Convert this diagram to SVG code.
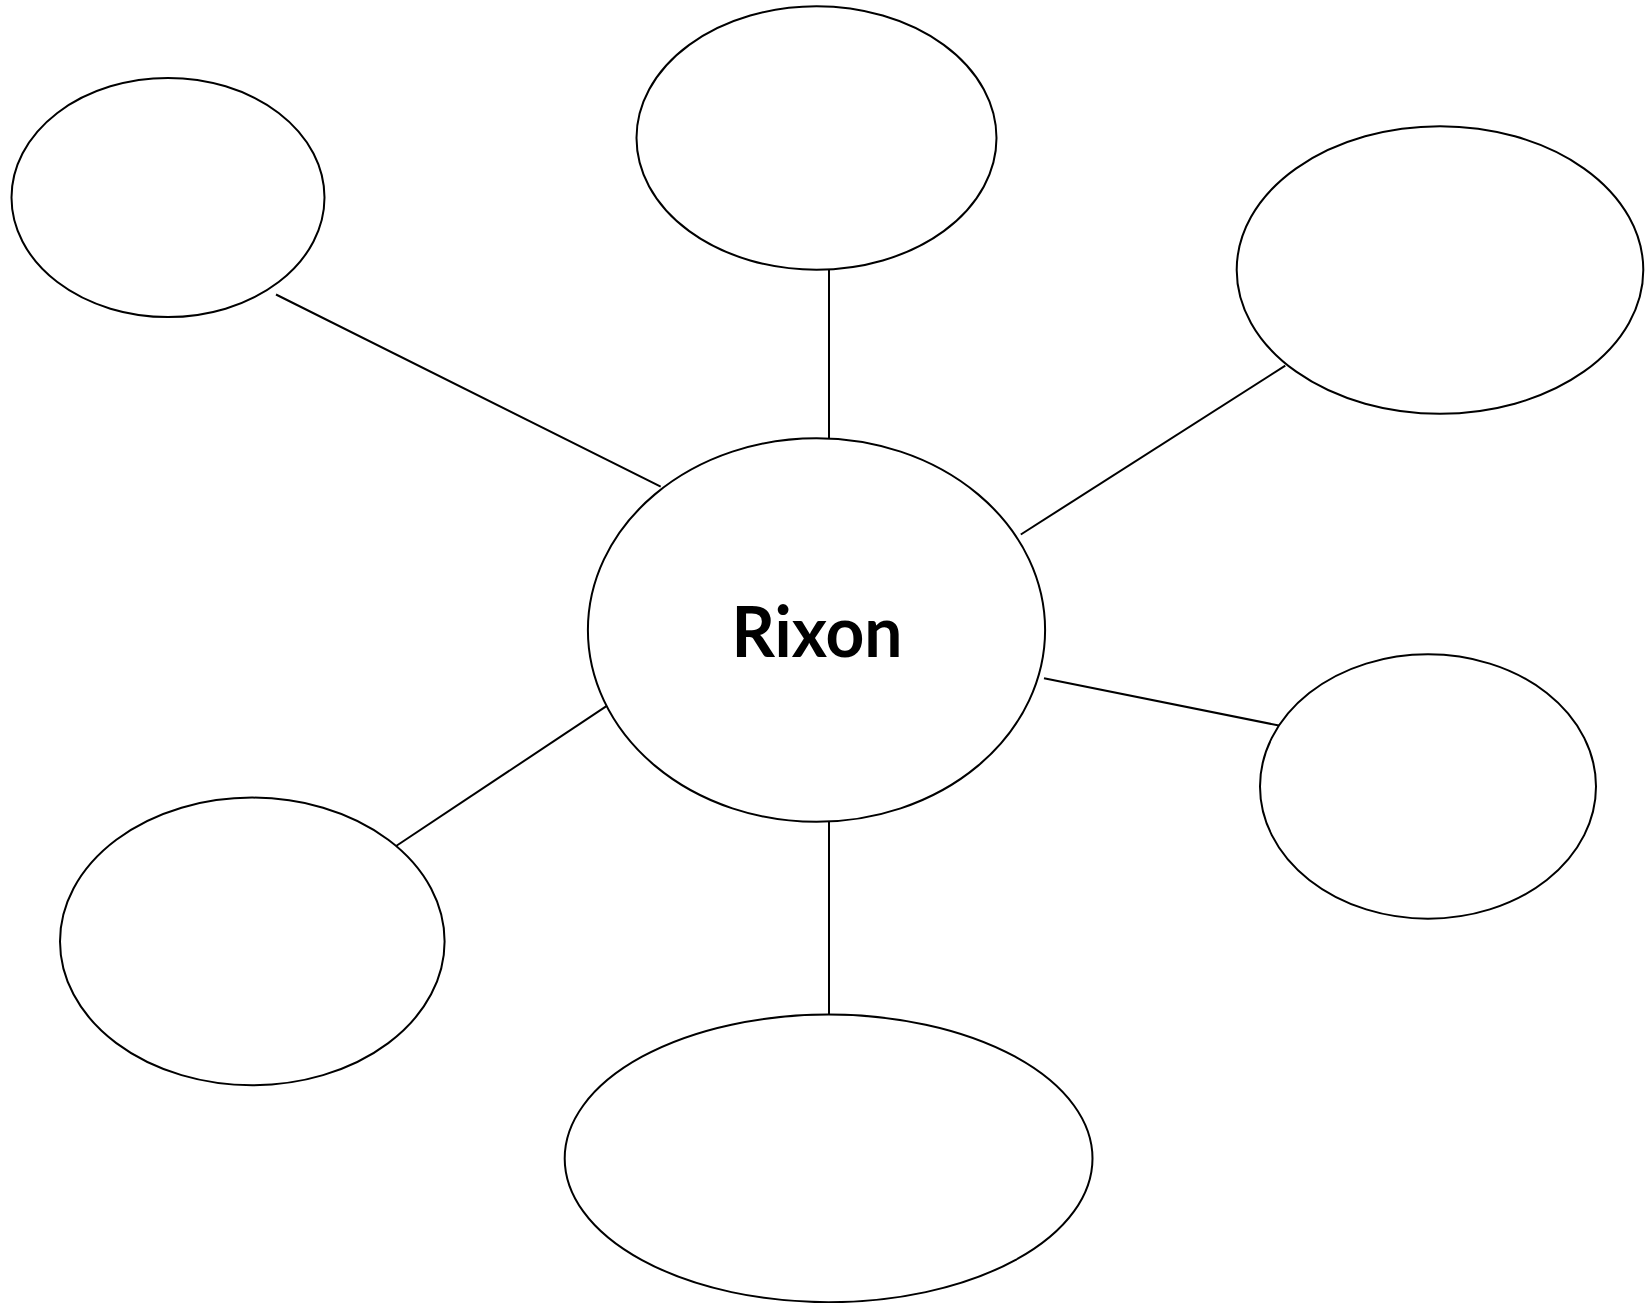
<svg xmlns="http://www.w3.org/2000/svg" width="1652" height="1303" viewBox="0 0 1652 1303">
<style>
.node{fill:#ffffff;stroke:#000000;stroke-width:2}
.conn line{stroke:#000000;stroke-width:2}
.label{font-family:Lato,"Open Sans","DejaVu Sans",sans-serif;font-weight:bold;font-size:70px;fill:#000000}
</style>
<rect width="1652" height="1303" fill="#ffffff"/>
<g id="connectors" class="conn">
<line x1="276" y1="294.5" x2="660.7" y2="486.7"/>
<line x1="829" y1="269.7" x2="829" y2="438.3"/>
<line x1="1285.3" y1="365.6" x2="1020.8" y2="534.5"/>
<line x1="1044" y1="678.3" x2="1285.3" y2="726.8"/>
<line x1="613.2" y1="701.7" x2="396.1" y2="846"/>
<line x1="829" y1="821.8" x2="829" y2="1014.6"/>
</g>
<g id="node-center">
<ellipse class="node" cx="816.5" cy="630" rx="228.6" ry="191.8"/>
<text class="label" x="817" y="657" text-anchor="middle" textLength="171" lengthAdjust="spacingAndGlyphs">Rixon</text>
</g>
<g id="node-top-left"><ellipse class="node" cx="168" cy="197.5" rx="156.5" ry="119.6"/></g>
<g id="node-top"><ellipse class="node" cx="816.5" cy="138" rx="180" ry="131.7"/></g>
<g id="node-top-right"><ellipse class="node" cx="1440" cy="270" rx="203.3" ry="143.8"/></g>
<g id="node-right"><ellipse class="node" cx="1428" cy="786.5" rx="168" ry="132.2"/></g>
<g id="node-bottom"><ellipse class="node" cx="828.6" cy="1158.4" rx="263.9" ry="143.8"/></g>
<g id="node-bottom-left"><ellipse class="node" cx="252.3" cy="941.4" rx="192.3" ry="143.8"/></g>
</svg>
